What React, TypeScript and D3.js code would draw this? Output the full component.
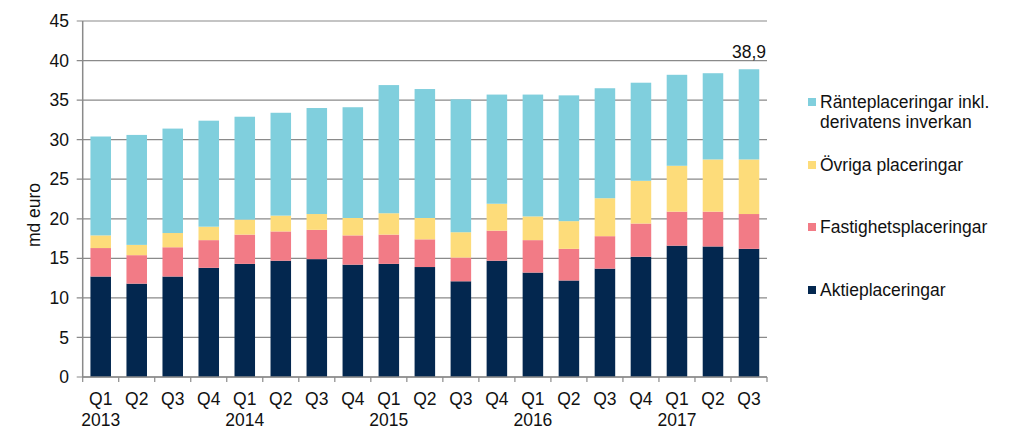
import React from "react";
import * as d3 from "d3";

const quarters = ["Q1","Q2","Q3","Q4","Q1","Q2","Q3","Q4","Q1","Q2","Q3","Q4","Q1","Q2","Q3","Q4","Q1","Q2","Q3"];
const years = ["2013","","","","2014","","","","2015","","","","2016","","","","2017","",""];
const aktie = [12.7,11.8,12.7,13.8,14.3,14.7,14.9,14.2,14.3,13.9,12.1,14.7,13.2,12.2,13.7,15.2,16.6,16.5,16.2];
const fastighet = [3.6,3.6,3.7,3.5,3.7,3.7,3.7,3.7,3.7,3.5,3.0,3.8,4.1,4.0,4.1,4.2,4.3,4.4,4.4];
const ovriga = [1.6,1.3,1.8,1.7,1.9,2.0,2.0,2.2,2.7,2.7,3.2,3.4,3.0,3.5,4.8,5.4,5.8,6.6,6.9];
const ranta = [12.5,13.9,13.2,13.4,13.0,13.0,13.4,14.0,16.2,16.3,16.8,13.8,15.4,15.9,13.9,12.4,11.5,10.9,11.4];
const yTicks = [0,5,10,15,20,25,30,35,40,45];
const seriesKeys = ["aktie","fastighet","ovriga","ranta"];
const seriesNames = ["Aktieplaceringar","Fastighetsplaceringar","Övriga placeringar","Ränteplaceringar inkl. derivatens inverkan"];
const colors = ["#03274f","#f27b86","#fddc7a","#80cfdd"];
const lastLabel = "38,9";

export default function App() {
  const W = 1024, H = 446;
  const x0 = 82.7, x1 = 767, yTop = 21, yBot = 377;
  const ids = quarters.map((_, i) => String(i));
  const x = d3.scaleBand().domain(ids).range([x0, x1]).paddingInner(0.43).paddingOuter(0.215);
  const xb = d3.scaleBand().domain(ids).range([x0, x1]);
  const y = d3.scaleLinear().domain([0, 45]).range([yBot, yTop]);
  const rows = ids.map((_, i) => ({ aktie: aktie[i], fastighet: fastighet[i], ovriga: ovriga[i], ranta: ranta[i] }));
  const stacked = d3.stack<any>().keys(seriesKeys)(rows);
  const font = "Liberation Sans, Arial, sans-serif";
  const fs = 17.5;
  const legendY = [290, 227, 165, 102];
  const lastI = ids.length - 1;
  const lastTotal = aktie[lastI] + fastighet[lastI] + ovriga[lastI] + ranta[lastI];
  return (
    <svg width={W} height={H} style={{ position: "absolute", left: 0, top: 0 }} fontFamily={font}>
      <rect width={W} height={H} fill="#fff" />
      {yTicks.map(t => (
        <g key={t}>
          <line x1={x0 - 6} x2={x1} y1={y(t)} y2={y(t)} stroke="#8a8a8a" strokeWidth={1.2} />
          <text x={69} y={y(t)} dy="0.35em" textAnchor="end" fontSize={fs} fill="#111">{t}</text>
        </g>
      ))}
      {stacked.map((s, si) => (
        <g key={si} fill={colors[si]}>
          {s.map((d, i) => (
            <rect key={i} x={x(ids[i])} width={x.bandwidth()} y={y(d[1])} height={y(d[0]) - y(d[1])} />
          ))}
        </g>
      ))}
      <line x1={x0} x2={x0} y1={yTop} y2={yBot} stroke="#8a8a8a" strokeWidth={1.5} />
      <line x1={x0} x2={x1} y1={yBot} y2={yBot} stroke="#8a8a8a" strokeWidth={1.5} />
      {ids.map((id) => (
        <line key={id} x1={xb(id)} x2={xb(id)} y1={yBot} y2={yBot + 5} stroke="#8a8a8a" strokeWidth={1.2} />
      ))}
      <line x1={x1} x2={x1} y1={yBot} y2={yBot + 5} stroke="#8a8a8a" strokeWidth={1.2} />
      {ids.map((id, i) => (
        <g key={id}>
          <text x={xb(id)! + xb.bandwidth() / 2} y={405} textAnchor="middle" fontSize={fs} fill="#111">{quarters[i]}</text>
          {years[i] && <text x={xb(id)! + xb.bandwidth() / 2} y={426} textAnchor="middle" fontSize={fs} fill="#111">{years[i]}</text>}
        </g>
      ))}
      <text x={x(ids[lastI])! + x.bandwidth() / 2} y={y(lastTotal) - 11} textAnchor="middle" fontSize={fs} fill="#111">{lastLabel}</text>
      <text transform="translate(40,215) rotate(-90)" textAnchor="middle" fontSize={fs} fill="#111">md euro</text>
      {seriesNames.map((n, i) => {
        const parts = i === 3 ? ["Ränteplaceringar inkl.", "derivatens inverkan"] : [n];
        return (
          <g key={i}>
            <rect x={808} y={legendY[i] - 4} width={8} height={8} fill={colors[i]} />
            {parts.map((p, j) => (
              <text key={j} x={820} y={legendY[i] + j * 20} dy="0.35em" fontSize={fs} fill="#111">{p}</text>
            ))}
          </g>
        );
      })}
    </svg>
  );
}
